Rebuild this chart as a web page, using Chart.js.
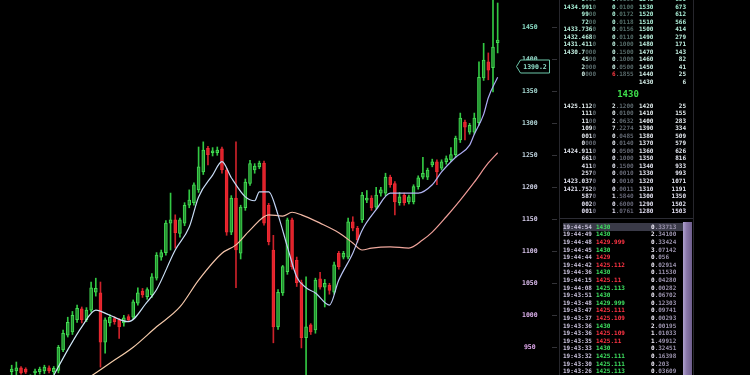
<!DOCTYPE html>
<html><head><meta charset="utf-8">
<script src="https://cdn.jsdelivr.net/npm/chart.js@4.4.1/dist/chart.umd.min.js"></script>
<style>
html,body{margin:0;padding:0;background:#000;width:750px;height:375px;overflow:hidden;}
#wrap{position:absolute;left:0;top:0;width:560px;height:375px;}
#book{position:absolute;left:0;top:0;width:750px;height:375px;pointer-events:none;font-family:'DejaVu Sans Mono',monospace;font-weight:bold;font-size:6px;}
.t{position:absolute;white-space:pre;line-height:8px;height:8px;}
</style></head><body>
<div id="wrap"><canvas id="c"></canvas></div>
<div id="book"></div>
<script>
// ---------- chart data ----------
const candleLabels = Array.from({length:107},(_,i)=>String(i+1));
const opens  = [903,902,912,913,918,916,903,910,912,913,918,912,914,946,969,974,993,1010,993,1008,1036,1035,958,988,995,993,988,998,997,1019,1038,1029,1032,1058,1091,1098,1144,1149,1128,1144,1172,1176,1196,1224,1261,1254,1254,1260,1227,1130,1183,1097,1168,1206,1227,1232,1238,1172,1102,982,1035,1068,1149,1086,1051,965,985,977,1057,1044,1047,1036,1097,1091,1091,1146,1136,1149,1180,1183,1169,1191,1191,1216,1206,1176,1188,1177,1177,1201,1216,1216,1235,1240,1230,1240,1243,1251,1274,1302,1286,1286,1301,1371,1396,1387,1426];
const highs  = [906,905,922,927,920,918,907,916,919,922,921,920,953,977,997,1006,1016,1013,1012,1052,1058,1052,996,1001,998,995,1000,1001,1024,1043,1042,1043,1065,1098,1102,1148,1191,1157,1152,1176,1196,1207,1263,1271,1264,1262,1263,1263,1230,1187,1271,1172,1213,1242,1237,1241,1241,1175,1125,1040,1078,1152,1152,1091,1055,1060,987,1058,1067,1056,1050,1083,1100,1100,1152,1154,1139,1192,1195,1187,1200,1200,1222,1219,1209,1192,1191,1188,1204,1218,1247,1230,1244,1243,1243,1249,1262,1280,1316,1305,1300,1316,1396,1425,1410,1495,1488];
const lows   = [899,898,905,906,908,909,900,907,908,909,910,908,910,943,966,970,989,988,990,1005,1030,919,941,983,986,964,983,990,994,1016,1028,1025,1028,1055,1086,1094,1102,1105,1122,1140,1168,1172,1192,1220,1235,1249,1250,1222,1125,1126,1043,1088,1164,1203,1222,1229,1141,1110,957,978,1031,1064,1072,1045,949,900,970,972,1041,1013,1033,1033,1072,1088,1088,1132,1114,1145,1176,1164,1166,1186,1187,1200,1157,1172,1172,1174,1174,1197,1213,1212,1232,1204,1227,1236,1240,1247,1270,1274,1283,1283,1297,1367,1368,1349,1410];
const closes = [904,904,916,918,910,911,905,913,916,919,913,917,950,972,989,1000,1011,993,1008,1043,1042,958,993,997,990,982,996,993,1021,1035,1032,1040,1060,1094,1098,1144,1149,1129,1149,1172,1180,1204,1232,1258,1251,1257,1258,1227,1130,1183,1102,1169,1208,1237,1233,1238,1144,1115,982,1036,1076,1149,1076,1051,965,982,974,1055,1044,1050,1039,1079,1076,1097,1146,1136,1118,1188,1183,1168,1188,1196,1216,1204,1177,1185,1176,1185,1201,1215,1222,1227,1240,1224,1240,1245,1251,1277,1308,1294,1297,1308,1372,1399,1383,1419,1430];
// moving averages read at sampled candles (null = not read)
const maShort = new Array(107).fill(null);
const maShortRead = [[11,906],[14,946],[17,982],[20,1008],[23,1000],[27,990],[31,1021],[33,1040],[37,1102],[40,1138],[42,1185],[45,1219],[47,1240],[49,1215],[52,1185],[54,1179],[55,1193],[57,1193],[59,1157],[61,1107],[63,1060],[65,1043],[67,1035],[70,1016],[72,1055],[75,1097],[77,1133],[80,1165],[83,1191],[86,1191],[89,1191],[92,1204],[94,1224],[97,1247],[100,1266],[101,1283],[103,1314],[104,1340],[106,1372]];
maShortRead.forEach(([i,v])=>maShort[i]=v);
const maLong = new Array(107).fill(null);
const maLongRead = [[19,905],[23,925],[28,950],[33,982],[38,1013],[42,1055],[47,1097],[50,1110],[53,1133],[57,1157],[60,1155],[62,1161],[64,1157],[68,1144],[72,1129],[75,1113],[77,1102],[79,1105],[83,1107],[87,1105],[90,1118],[92,1130],[95,1154],[98,1180],[101,1208],[104,1238],[106,1254]];
maLongRead.forEach(([i,v])=>maLong[i]=v);
const yTicks = [950,1000,1050,1100,1150,1200,1250,1300,1350,1400,1450];
const currentPrice = 1390.2;

// ---------- order book data ----------
const askPrices  = ['0000','1434.9910','9900','7200','1433.7360','1432.4680','1431.4110','1430.7000','4500','2000','0000',''];
const askAmounts = ['0.0100','0.0100','0.0172','0.0118','0.0156','0.0110','0.1000','0.1500','0.1000','0.0500','6.1855',''];
const askLevels  = ['1540','1530','1520','1510','1500','1490','1480','1470','1460','1450','1440','1430'];
const askCounts  = ['699','673','612','566','414','279','171','143','82','41','25','6'];
const lastPrice  = '1430';
const bidPrices  = ['1425.1120','1110','1100','1090','0010','0000','1424.9110','6610','4110','2570','1423.0370','1421.7520','5870','0020','0010'];
const bidAmounts = ['2.1200','0.0100','2.0632','7.2274','0.0485','0.0140','0.0500','0.1000','0.1500','0.0010','0.0010','0.0011','1.5840','0.6000','1.0761'];
const bidLevels  = ['1420','1410','1400','1390','1380','1370','1360','1350','1340','1330','1320','1310','1300','1290','1280'];
const bidCounts  = ['25','155','283','334','509','579','626','816','933','993','1071','1191','1350','1502','1503'];
const tradeTimes  = ['19:44:54','19:44:49','19:44:48','19:44:45','19:44:44','19:44:42','19:44:36','19:44:15','19:44:08','19:43:51','19:43:48','19:43:47','19:43:37','19:43:36','19:43:36','19:43:35','19:43:33','19:43:32','19:43:30','19:43:26'];
const tradePrices = ['1430','1430','1429.999','1430','1429','1425.112','1430','1425.11','1425.113','1430','1429.999','1425.111','1425.109','1430','1425.109','1425.11','1430','1425.111','1425.111','1425.113'];
const tradeSides  = ['b','b','s','b','s','s','b','s','b','b','b','s','s','b','s','s','b','b','b','b'];
const tradeAmounts= ['0.33713','2.34100','0.33424','3.07142','0.056','0.02914','0.11530','0.04280','0.00282','0.06702','0.12303','0.09741','0.00293','2.00195','1.01033','1.49912','0.32451','0.16398','0.203','0.03609'];

// ---------- helpers ----------
function hex(c){return [parseInt(c.slice(1,3),16),parseInt(c.slice(3,5),16),parseInt(c.slice(5,7),16)];}
function lerpStops(stops,t){
  if(t<=stops[0][0]) return stops[0][1];
  for(let k=1;k<stops.length;k++){
    if(t<=stops[k][0]){
      const [t0,c0]=stops[k-1],[t1,c1]=stops[k];
      const f=(t-t0)/(t1-t0),a=hex(c0),b=hex(c1);
      return 'rgb('+a.map((v,j)=>Math.round(v+(b[j]-v)*f)).join(',')+')';
    }
  }
  return stops[stops.length-1][1];
}
const isUp = i => closes[i] >= opens[i];
function hGrad(stops){
  return ctx=>{
    const ch=ctx.chart,a=ch.chartArea;
    if(!a) return stops[0];
    const g=ch.ctx.createLinearGradient(a.left,0,a.right,0);
    stops.forEach((c,k)=>g.addColorStop(k/(stops.length-1),c));
    return g;
  };
}
const tickColorStops=[[0,'#8ce0c8'],[0.5,'#d0d4e8'],[1,'#e2aaf0']];

const overlay={
  id:'overlay',
  afterDraw(chart){
    const c=chart.ctx,y=chart.scales.y;
    c.save();
    c.strokeStyle='#333338';c.lineWidth=1;
    yTicks.forEach(v=>{const p=Math.round(y.getPixelForValue(v))+0.5;c.beginPath();c.moveTo(552,p);c.lineTo(557,p);c.stroke();});
    const py=Math.round(y.getPixelForValue(currentPrice))+0.5;
    c.beginPath();
    c.moveTo(516.5,py);c.lineTo(520.5,py-6.5);c.lineTo(549.5,py-6.5);c.lineTo(549.5,py+6.5);c.lineTo(520.5,py+6.5);c.closePath();
    c.fillStyle='#000';c.fill();c.strokeStyle='#6cc8aa';c.stroke();
    c.fillStyle='#90e2cc';c.font='bold 6.5px "DejaVu Sans Mono"';c.textAlign='center';c.textBaseline='middle';
    c.fillText(currentPrice.toFixed(1),535,py+0.5);
    c.restore();
  }
};

new Chart(document.getElementById('c'),{
  type:'bar',
  data:{labels:candleLabels,datasets:[
    {type:'line',label:'MA short',data:maShort,borderColor:hGrad(['#d2ecf6','#c4d8f4','#a8a4f2']),borderWidth:1.2,pointRadius:0,spanGaps:true,cubicInterpolationMode:'monotone',order:0},
    {type:'line',label:'MA long',data:maLong,borderColor:hGrad(['#f6d6aa','#f2c0a8','#ee9494']),borderWidth:1.2,pointRadius:0,spanGaps:true,cubicInterpolationMode:'monotone',order:1},
    {type:'bar',label:'body',data:opens.map((o,i)=>[o,closes[i]]),
      backgroundColor:ctx=>isUp(ctx.dataIndex)?'#23902f':'#e2222b',
      borderColor:ctx=>isUp(ctx.dataIndex)?'#44dc54':'#ee2c34',
      borderWidth:1,borderSkipped:false,barThickness:3,grouped:false,order:2},
    {type:'bar',label:'wick',data:lows.map((l,i)=>[l,highs[i]]),
      backgroundColor:ctx=>isUp(ctx.dataIndex)?'#32c843':'#cc222a',
      borderWidth:0,barThickness:1,grouped:false,order:3}
  ]},
  options:{
    responsive:true,maintainAspectRatio:false,animation:false,
    layout:{padding:0},
    plugins:{legend:{display:false},tooltip:{enabled:false}},
    scales:{
      x:{type:'category',display:false,offset:true,grid:{display:false}},
      y:{position:'right',min:906.7,max:1492.7,
        grid:{display:false,drawTicks:false},border:{display:false},
        ticks:{crossAlign:'center',padding:22,font:{family:'DejaVu Sans Mono',size:6.5,weight:'bold'},
          callback:v=>String(v),
          color:ctx=>lerpStops(tickColorStops,(1450-ctx.tick.value)/500)},
        afterBuildTicks:ax=>{ax.ticks=yTicks.map(v=>({value:v}));},
        afterFit:s=>{s.width=60;s.paddingTop=0;s.paddingBottom=0;}
      }
    }
  },
  plugins:[overlay]
});

// ---------- order book (HTML text) ----------
const book=document.getElementById('book');
const rowStops=[[0,'#a2f0d4'],[110,'#e6eef0'],[375,'#dcc8f4']];
const dimStops=[[0,'#4e6c64'],[150,'#646873'],[375,'#6a6080']];
function span(txt,color){return '<span style="color:'+color+'">'+txt+'</span>';}
function put(html,x,y,align,w){
  const d=document.createElement('div');d.className='t';
  d.style.top=(y-4)+'px';
  if(align==='right'){d.style.left=(x-w)+'px';d.style.width=w+'px';d.style.textAlign='right';}
  else if(align==='center'){d.style.left=(x-w/2)+'px';d.style.width=w+'px';d.style.textAlign='center';}
  else d.style.left=x+'px';
  d.innerHTML=html;book.appendChild(d);return d;
}
function priceHtml(p,y){
  if(!p) return '';
  let m=p.match(/^(.*?)(0*)$/);let a=m[1],b=m[2];
  if(a===''){a=b[0];b=b.slice(1);}
  return span(a,lerpStops(rowStops,y))+span(b,lerpStops(dimStops,y));
}
function amtHtml(a,y,red){
  if(!a) return '';
  const k=a.indexOf('.');
  return span(a.slice(0,k),red?'#ff3a44':lerpStops(rowStops,y))+span(a.slice(k),lerpStops(dimStops,y));
}
// borders
const lb=document.createElement('div');lb.style.cssText='position:absolute;left:559px;top:0;width:1px;height:375px;background:#26262c;';book.appendChild(lb);
const rb=document.createElement('div');rb.style.cssText='position:absolute;left:693px;top:0;width:1px;height:375px;background:#26262c;';book.appendChild(rb);
askPrices.forEach((p,k)=>{
  const y=-0.8+k*7.5;
  put(priceHtml(p,y),596,y,'right',40);
  put(amtHtml(askAmounts[k],y,askAmounts[k].startsWith('6.')),612,y);
  put(span(askLevels[k],lerpStops(rowStops,y)),639,y);
  put(span(askCounts[k],lerpStops(rowStops,y)),686,y,'right',30);
});
const lp=put(lastPrice,628,93.5,'center',40);lp.style.fontSize='9px';lp.style.color='#3ee04c';lp.style.lineHeight='10px';lp.style.height='10px';lp.style.top='88.5px';
bidPrices.forEach((p,k)=>{
  const y=105.5+k*7.55;
  put(priceHtml(p,y),596,y,'right',40);
  put(amtHtml(bidAmounts[k],y,false),612,y);
  put(span(bidLevels[k],lerpStops(rowStops,y)),639,y);
  put(span(bidCounts[k],lerpStops(rowStops,y)),686,y,'right',30);
});
// trades box
const sep=document.createElement('div');sep.style.cssText='position:absolute;left:560px;top:218px;width:133px;height:1px;background:#2c2c34;';book.appendChild(sep);
const hl=document.createElement('div');hl.style.cssText='position:absolute;left:563px;top:223px;width:120px;height:8px;background:#3a3a48;';book.appendChild(hl);
const sb=document.createElement('div');sb.style.cssText='position:absolute;left:683px;top:222px;width:9px;height:153px;background:linear-gradient(to right,#b0a2d0,#8a78aa 40%,#6e5e8c);';book.appendChild(sb);
tradeTimes.forEach((t,k)=>{
  const y=226.7+k*7.6;
  put(span(t,'#cac2dc'),563,y);
  put(span(tradePrices[k],tradeSides[k]==='b'?'#3ee060':'#ff3444'),596,y);
  const a=tradeAmounts[k],i=a.indexOf('.');
  put(span(a.slice(0,i),'#f0ecf8')+span(a.slice(i),'#9a92ac'),651,y);
});
</script>
</body></html>
